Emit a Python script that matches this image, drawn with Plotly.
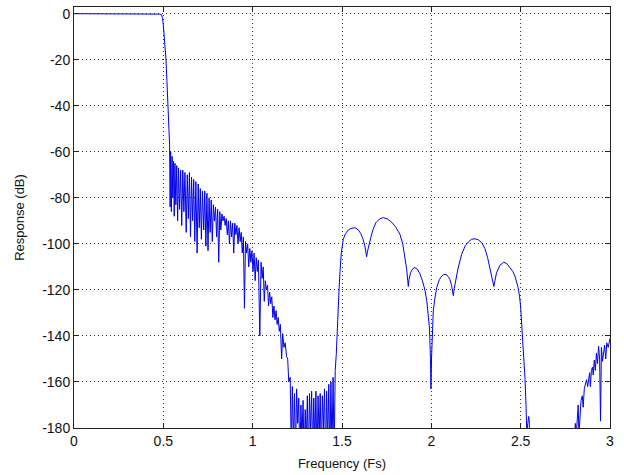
import plotly.graph_objects as go

# Passband and transition band
pass_f = [0.0, 0.2, 0.47, 0.48, 0.49, 0.495, 0.5, 0.505, 0.51, 0.515, 0.52, 0.525, 0.53, 0.533]
pass_db = [0, 0, 0, -0.2, -0.5, -2, -5, -9, -14, -20, -29, -40, -52, -57]

# Noisy first stopband region
noise_f = [0.535, 0.538, 0.541, 0.545, 0.549, 0.553, 0.557, 0.561, 0.565, 0.570, 0.575, 0.580,
           0.585, 0.591, 0.597, 0.603, 0.609, 0.615, 0.621, 0.628, 0.634, 0.640, 0.646, 0.652,
           0.658, 0.664, 0.670, 0.676, 0.682, 0.689, 0.695, 0.701, 0.707, 0.713, 0.719, 0.726,
           0.732, 0.738, 0.744, 0.750, 0.756, 0.762, 0.768, 0.774, 0.780, 0.786, 0.792, 0.798,
           0.804, 0.810, 0.816, 0.822, 0.828, 0.834, 0.840, 0.846, 0.852, 0.858, 0.864, 0.870,
           0.876, 0.882, 0.888, 0.894, 0.900, 0.906, 0.912, 0.918, 0.924, 0.930, 0.936, 0.942,
           0.948, 0.954, 0.960, 0.966, 0.972, 0.978, 0.984, 0.990, 0.996, 1.002, 1.008, 1.014,
           1.020, 1.026, 1.032, 1.040, 1.047, 1.053, 1.059, 1.065, 1.071, 1.077, 1.083, 1.089,
           1.095, 1.101, 1.107, 1.113, 1.119, 1.125, 1.131, 1.137, 1.143, 1.149, 1.155, 1.162,
           1.168, 1.175, 1.182, 1.190, 1.196, 1.202, 1.210]
noise_db = [-57, -84, -60, -86, -62, -80, -64, -88, -65, -83, -66, -90,
            -67, -85, -68, -92, -68, -86, -69, -95, -70, -89, -69, -97,
            -71, -90, -72, -99, -73, -104, -74, -93, -76, -98, -77, -94,
            -77, -101, -78, -103, -80, -95, -81, -99, -83, -90, -84, -97,
            -85, -108, -86, -94, -87, -90, -88, -92, -89, -96, -90, -100,
            -90, -97, -91, -104, -91, -96, -92, -100, -93, -99, -95, -104,
            -97, -128, -99, -104, -100, -110, -102, -108, -103, -112, -104, -116,
            -106, -112, -107, -140, -108, -115, -110, -125, -116, -120, -118, -127,
            -121, -126, -123, -132, -127, -133, -129, -135, -132, -138, -135, -150,
            -139, -145, -143, -149, -150, -160, -158]

# Noise floor region (below -160 dB)
floor_f = [1.216, 1.222, 1.228, 1.234, 1.240, 1.246, 1.252, 1.258, 1.264, 1.270, 1.276, 1.282,
           1.288, 1.294, 1.300, 1.306, 1.312, 1.318, 1.324, 1.330, 1.336, 1.342, 1.348, 1.354,
           1.360, 1.366, 1.372, 1.378, 1.384, 1.390, 1.396, 1.402, 1.408, 1.414, 1.420, 1.426,
           1.432, 1.438, 1.444, 1.450, 1.456, 1.462, 1.468, 1.474, 1.479, 1.484, 1.489, 1.496,
           1.507, 1.520]
floor_db = [-190, -162, -186, -165, -192, -163, -178, -167, -195, -170, -185, -168,
            -194, -172, -188, -166, -196, -165, -182, -164, -193, -167, -187, -164,
            -195, -166, -184, -165, -192, -166, -180, -163, -194, -164, -186, -161,
            -195, -160, -190, -158, -193, -155, -148, -135, -126, -119, -112, -104,
            -98, -95.5]

# Smooth lobes of the second stopband
lobe_f = [1.535, 1.55, 1.572, 1.59, 1.605, 1.618, 1.628, 1.635, 1.638, 1.642, 1.650, 1.662,
          1.675, 1.690, 1.71, 1.731, 1.755, 1.778, 1.80, 1.824, 1.840, 1.852, 1.862, 1.868,
          1.871, 1.875, 1.884, 1.896, 1.908, 1.922, 1.936, 1.950, 1.964, 1.975, 1.983, 1.990,
          1.995, 1.998, 2.001, 2.006, 2.011, 2.02, 2.03, 2.045, 2.058, 2.070, 2.082, 2.095,
          2.104, 2.113, 2.12, 2.123, 2.128, 2.137, 2.150, 2.17, 2.19, 2.207, 2.225, 2.244,
          2.262, 2.282, 2.30, 2.315, 2.330, 2.34, 2.35, 2.356, 2.365, 2.384, 2.406, 2.425,
          2.44, 2.456, 2.468, 2.478, 2.486, 2.494, 2.5, 2.51, 2.518, 2.524, 2.530, 2.534,
          2.540, 2.545, 2.548, 2.552, 2.6, 2.7, 2.79]
lobe_db = [-94, -93.3, -93, -93.8, -95.5, -98, -101, -104, -105.6, -103.5, -100.5, -97,
           -93.5, -90.8, -89.2, -88.6, -89.2, -90.6, -92.6, -95.8, -100, -105.7, -111, -116,
           -118.5, -115.5, -112.5, -110.8, -110.3, -111, -113, -116, -120, -125, -130, -137,
           -150, -163, -150, -137, -129, -123.5, -119, -115.5, -114, -113.3, -113.3, -114.2,
           -115.5, -118, -121, -122.5, -119.5, -115.5, -110.5, -104.5, -100.8, -99.2, -98, -97.8,
           -98.2, -99.5, -102, -106, -111, -115, -118.5, -116, -112.5, -109.3, -107.9, -108.8,
           -110.2, -112, -114, -116.5, -119, -123, -127.5, -140.5, -150, -158, -170, -182,
           -178, -175, -177, -190, -200, -200, -200]

# Rising noise near 3 Fs
tail_f = [2.80, 2.806, 2.812, 2.818, 2.822, 2.826, 2.832, 2.838, 2.845, 2.850, 2.856, 2.862,
          2.869, 2.875, 2.880, 2.886, 2.890, 2.896, 2.902, 2.906, 2.912, 2.918, 2.924, 2.930,
          2.936, 2.942, 2.947, 2.952, 2.958, 2.964, 2.970, 2.976, 2.982, 2.990, 2.996, 3.0]
tail_db = [-185, -178, -182, -172, -170, -183, -175, -168, -166, -171, -163, -161,
           -159, -162, -158, -156, -162, -155, -153.5, -157, -150.5, -155, -147.5, -152,
           -144.5, -150, -177, -145, -151, -147, -144, -150, -143, -145, -142, -141]

freq = pass_f + noise_f + floor_f + lobe_f + tail_f
resp = pass_db + noise_db + floor_db + lobe_db + tail_db

x_ticks = [0, 0.5, 1, 1.5, 2, 2.5, 3]
x_labels = ["0", "0.5", "1", "1.5", "2", "2.5", "3"]
y_ticks = [0, -20, -40, -60, -80, -100, -120, -140, -160, -180]
y_labels = ["0", "-20", "-40", "-60", "-80", "-100", "-120", "-140", "-160", "-180"]

FONT = "Liberation Sans, Arial, sans-serif"

fig = go.Figure()
fig.add_trace(go.Scatter(x=freq, y=resp, mode="lines",
                         line=dict(color="rgb(0,0,235)", width=1),
                         showlegend=False, hoverinfo="skip"))

axis_common = dict(
    showline=True, linecolor="#222222", linewidth=1, mirror="ticks",
    ticks="inside", ticklen=5, tickcolor="#222222",
    showgrid=True, gridcolor="#333333", gridwidth=1, griddash="1px,3px",
    zeroline=False, automargin=False,
    tickfont=dict(family=FONT, size=14, color="#111111"),
)

fig.update_xaxes(range=[0, 3], tickvals=x_ticks, ticktext=x_labels,
                 title=dict(text="Frequency (Fs)", standoff=11,
                            font=dict(family=FONT, size=13, color="#111111")),
                 **axis_common)
fig.update_yaxes(range=[-180, 2.9], tickvals=y_ticks, ticktext=y_labels,
                 title=dict(text="Response (dB)", standoff=14,
                            font=dict(family=FONT, size=13, color="#111111")),
                 **axis_common)

fig.update_layout(
    width=624, height=475,
    margin=dict(l=74, r=14, t=7, b=47, autoexpand=False),
    paper_bgcolor="white", plot_bgcolor="white",
)

fig.write_html("out.html", config={"displayModeBar": False},
               post_script="document.body.style.margin='0';")
